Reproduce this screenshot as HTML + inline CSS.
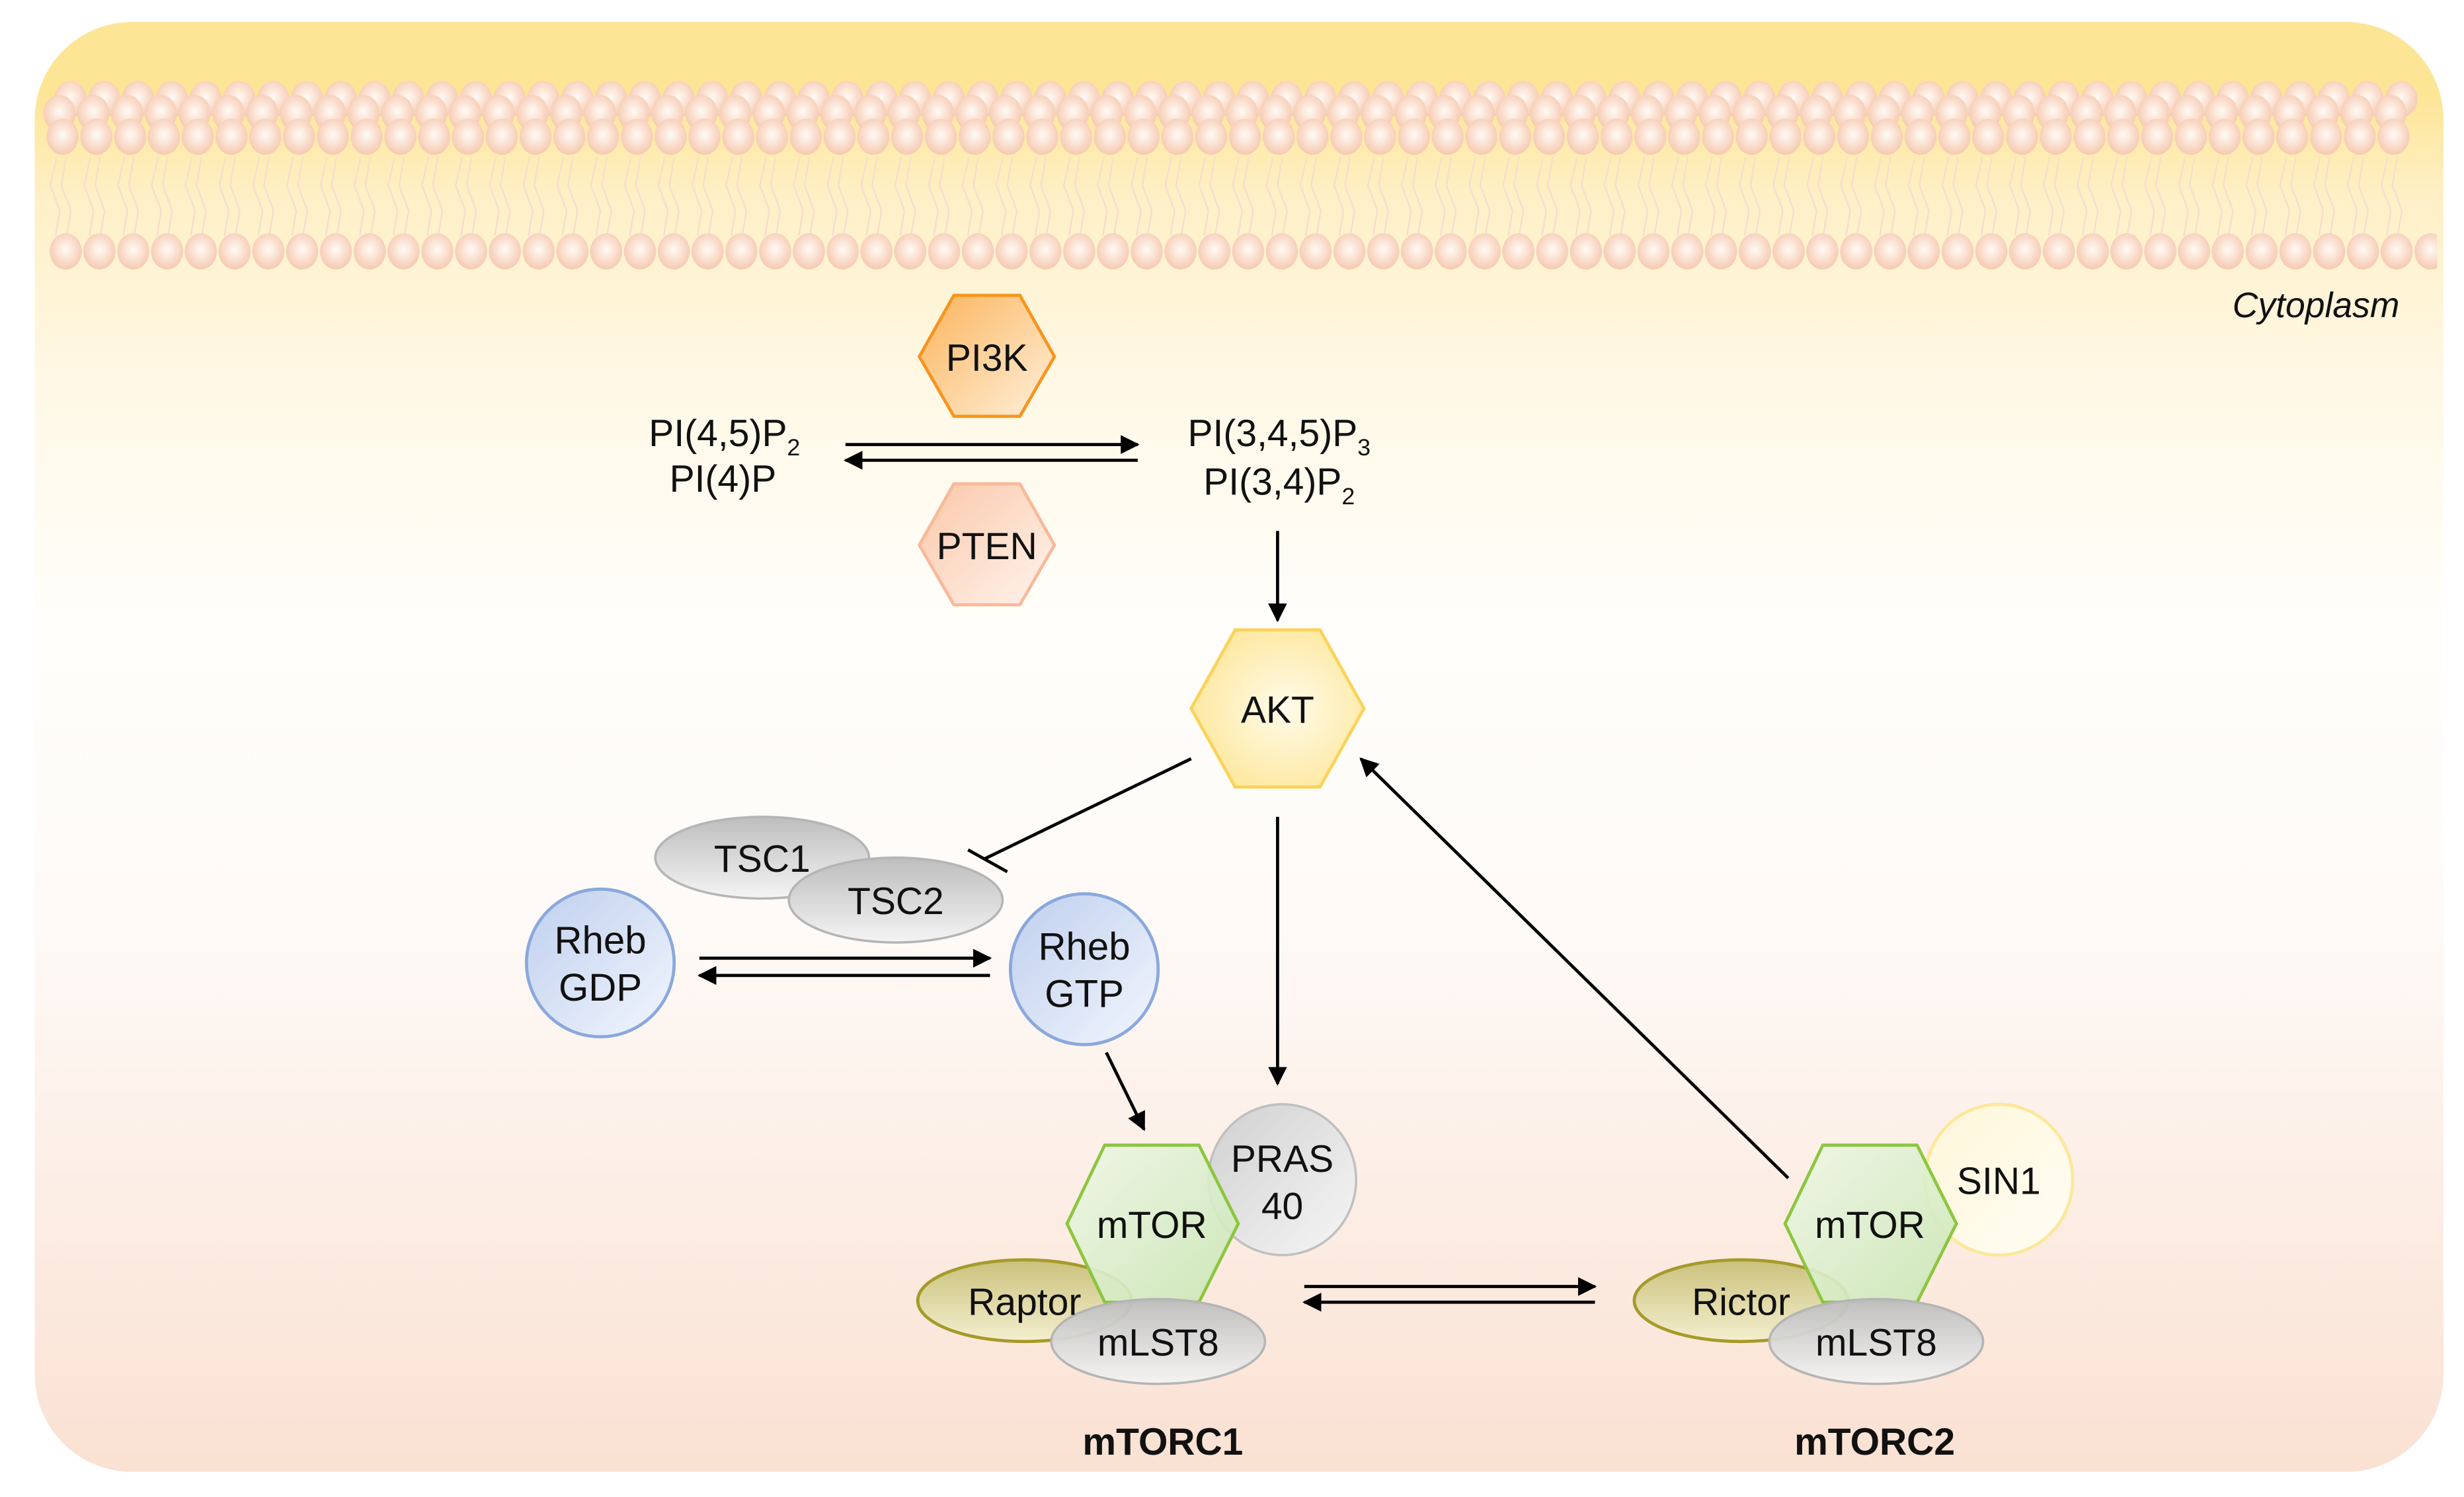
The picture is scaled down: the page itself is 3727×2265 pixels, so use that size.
<!DOCTYPE html>
<html><head><meta charset="utf-8"><style>
html,body{margin:0;padding:0;background:#fff;}
svg{display:block;}
text{font-family:"Liberation Sans",Arial,sans-serif;fill:#111;}
</style></head><body>
<svg width="3727" height="2265" viewBox="0 0 1568 953" xmlns="http://www.w3.org/2000/svg">
<defs>
<linearGradient id="bg" x1="0" y1="0" x2="0" y2="1">
<stop offset="0" stop-color="#fde596"/>
<stop offset="0.05" stop-color="#fde596"/>
<stop offset="0.12" stop-color="#fef0c6"/>
<stop offset="0.25" stop-color="#fff8e6"/>
<stop offset="0.42" stop-color="#fffefb"/>
<stop offset="0.62" stop-color="#fefaf7"/>
<stop offset="1" stop-color="#fae1d2"/>
</linearGradient>
<radialGradient id="ball" cx="0.5" cy="0.45" r="0.55">
<stop offset="0" stop-color="#fffaf5"/>
<stop offset="1" stop-color="#f6c9b0"/>
</radialGradient>
<pattern id="headrow" x="0" y="0" width="21.5" height="26" patternUnits="userSpaceOnUse">
<ellipse cx="10.75" cy="13" rx="10.2" ry="11.5" fill="url(#ball)"/>
</pattern>
<pattern id="tails" x="0" y="0" width="21.5" height="60" patternUnits="userSpaceOnUse">
<polyline points="6,0 2,18 8,34 5,52" fill="none" stroke="#f8dccf" stroke-width="1"/>
<polyline points="12,0 9,18 15,34 12,52" fill="none" stroke="#f8dccf" stroke-width="1"/>
</pattern>
<linearGradient id="gOr" x1="0" y1="0" x2="1" y2="1"><stop offset="0" stop-color="#fbb45b"/><stop offset="1" stop-color="#fff0dc"/></linearGradient>
<linearGradient id="gPt" x1="0" y1="0" x2="1" y2="1"><stop offset="0" stop-color="#fbc7a8"/><stop offset="1" stop-color="#fff4ee"/></linearGradient>
<radialGradient id="gAkt" cx="0.55" cy="0.5" r="0.6"><stop offset="0" stop-color="#fffbea"/><stop offset="1" stop-color="#fde79a"/></radialGradient>
<linearGradient id="gGray" x1="0" y1="0" x2="0" y2="1"><stop offset="0" stop-color="#bdbdbd"/><stop offset="1" stop-color="#f4f4f4"/></linearGradient>
<linearGradient id="gGray2" x1="0" y1="0" x2="1" y2="1"><stop offset="0" stop-color="#d0d0d0"/><stop offset="1" stop-color="#f6f6f6"/></linearGradient>
<linearGradient id="gBlue" x1="0" y1="0" x2="1" y2="1"><stop offset="0" stop-color="#bfcfee"/><stop offset="1" stop-color="#f2f6fd"/></linearGradient>
<linearGradient id="gGreen" x1="0" y1="0" x2="1" y2="1"><stop offset="0" stop-color="#eef7e6"/><stop offset="1" stop-color="#c8e6b4"/></linearGradient>
<linearGradient id="gOl" x1="0" y1="0" x2="0" y2="1"><stop offset="0" stop-color="#cbc17c"/><stop offset="1" stop-color="#f4efcf"/></linearGradient>
<linearGradient id="gSin" x1="0" y1="0" x2="1" y2="1"><stop offset="0" stop-color="#fff6d8"/><stop offset="1" stop-color="#fffdf5"/></linearGradient>
<marker id="ah2" viewBox="0 0 10 10" refX="9" refY="5" markerWidth="12" markerHeight="12" markerUnits="userSpaceOnUse" orient="auto"><path d="M0,0 L10,5 L0,10 z" fill="#000"/></marker>
</defs>

<rect x="22" y="14" width="1533" height="923" rx="62" ry="62" fill="url(#bg)"/>
<!-- membrane -->
<rect x="0" y="0" width="1505" height="50" fill="url(#tails)" transform="translate(30,100)"/>
<rect x="0" y="0" width="1505" height="26" fill="url(#headrow)" transform="translate(34,50)"/>
<rect x="0" y="0" width="1505" height="26" fill="url(#headrow)" transform="translate(27,59)"/>
<rect x="0" y="0" width="1505" height="26" fill="url(#headrow)" transform="translate(29,74)"/>
<rect x="0" y="0" width="1520" height="26" fill="url(#headrow)" transform="translate(31,147)"/>

<text x="1527" y="202" font-size="22.5" font-style="italic" text-anchor="end">Cytoplasm</text>

<!-- PI3K / PTEN -->
<polygon points="585,227 607,188 649,188 671,227 649,265 607,265" fill="url(#gOr)" stroke="#f7941d" stroke-width="2"/>
<text x="628" y="236" font-size="24" text-anchor="middle">PI3K</text>
<polygon points="585,347 607,308 649,308 671,347 649,385 607,385" fill="url(#gPt)" stroke="#f9b99a" stroke-width="2"/>
<text x="628" y="356" font-size="24" text-anchor="middle">PTEN</text>

<text x="461" y="284" font-size="24" text-anchor="middle">PI(4,5)P<tspan font-size="15" dy="6">2</tspan></text>
<text x="460" y="313" font-size="24" text-anchor="middle">PI(4)P</text>
<text x="814" y="284" font-size="24" text-anchor="middle">PI(3,4,5)P<tspan font-size="15" dy="6">3</tspan></text>
<text x="814" y="315" font-size="24" text-anchor="middle">PI(3,4)P<tspan font-size="15" dy="6">2</tspan></text>

<line x1="538" y1="283" x2="724" y2="283" stroke="#000" stroke-width="2" marker-end="url(#ah2)"/>
<line x1="724" y1="293" x2="538" y2="293" stroke="#000" stroke-width="2" marker-end="url(#ah2)"/>

<line x1="813" y1="338" x2="813" y2="395" stroke="#000" stroke-width="2" marker-end="url(#ah2)"/>

<!-- AKT -->
<polygon points="758,451 786,401 840,401 868,451 840,501 786,501" fill="url(#gAkt)" stroke="#fbd35a" stroke-width="2"/>
<text x="813" y="460" font-size="24" text-anchor="middle">AKT</text>

<line x1="758" y1="483" x2="626" y2="547" stroke="#000" stroke-width="2"/>
<line x1="616" y1="541" x2="641" y2="555" stroke="#000" stroke-width="2"/>

<!-- TSC -->
<ellipse cx="485" cy="546" rx="68" ry="26" fill="url(#gGray)" stroke="#b5b5b5" stroke-width="1.5"/>
<ellipse cx="570" cy="573" rx="68" ry="27" fill="url(#gGray)" stroke="#b5b5b5" stroke-width="1.5"/>
<text x="485" y="555" font-size="24" text-anchor="middle">TSC1</text>
<text x="570" y="582" font-size="24" text-anchor="middle">TSC2</text>

<!-- Rheb -->
<circle cx="382" cy="613" r="47" fill="url(#gBlue)" stroke="#8aa8dc" stroke-width="2"/>
<text x="382" y="607" font-size="24.5" text-anchor="middle">Rheb</text>
<text x="382" y="637" font-size="24.5" text-anchor="middle">GDP</text>
<ellipse cx="690" cy="617" rx="47" ry="48" fill="url(#gBlue)" stroke="#8aa8dc" stroke-width="2"/>
<text x="690" y="611" font-size="24.5" text-anchor="middle">Rheb</text>
<text x="690" y="641" font-size="24.5" text-anchor="middle">GTP</text>

<line x1="445" y1="610" x2="630" y2="610" stroke="#000" stroke-width="2" marker-end="url(#ah2)"/>
<line x1="630" y1="621" x2="445" y2="621" stroke="#000" stroke-width="2" marker-end="url(#ah2)"/>

<line x1="704" y1="670" x2="728" y2="719" stroke="#000" stroke-width="2" marker-end="url(#ah2)"/>
<line x1="813" y1="520" x2="813" y2="690" stroke="#000" stroke-width="2" marker-end="url(#ah2)"/>
<line x1="1138" y1="750" x2="866" y2="483" stroke="#000" stroke-width="2" marker-end="url(#ah2)"/>

<!-- mTORC1 -->
<ellipse cx="816" cy="751" rx="47" ry="48" fill="url(#gGray2)" stroke="#c0c0c0" stroke-width="1.5"/>
<ellipse cx="652" cy="828" rx="68" ry="26" fill="url(#gOl)" stroke="#a69a2a" stroke-width="2"/>
<polygon points="679,779 703,729 763,729 788,779 763,829 703,829" fill="url(#gGreen)" fill-opacity="0.9" stroke="#8cc63f" stroke-width="2"/>
<ellipse cx="737" cy="854" rx="68" ry="27" fill="url(#gGray)" stroke="#b5b5b5" stroke-width="1.5" fill-opacity="0.95"/>
<text x="816" y="746" font-size="24" text-anchor="middle">PRAS</text>
<text x="816" y="776" font-size="24" text-anchor="middle">40</text>
<text x="733" y="788" font-size="24" text-anchor="middle">mTOR</text>
<text x="652" y="837" font-size="24" text-anchor="middle">Raptor</text>
<text x="737" y="863" font-size="24" text-anchor="middle">mLST8</text>
<text x="740" y="926" font-size="24" font-weight="bold" text-anchor="middle">mTORC1</text>

<line x1="830" y1="819" x2="1015" y2="819" stroke="#000" stroke-width="2" marker-end="url(#ah2)"/>
<line x1="1015" y1="829" x2="830" y2="829" stroke="#000" stroke-width="2" marker-end="url(#ah2)"/>

<!-- mTORC2 -->
<ellipse cx="1272" cy="751" rx="47" ry="48" fill="url(#gSin)" stroke="#fbe89a" stroke-width="2"/>
<ellipse cx="1108" cy="828" rx="68" ry="26" fill="url(#gOl)" stroke="#a69a2a" stroke-width="2"/>
<polygon points="1136,779 1160,729 1220,729 1245,779 1220,829 1160,829" fill="url(#gGreen)" fill-opacity="0.9" stroke="#8cc63f" stroke-width="2"/>
<ellipse cx="1194" cy="854" rx="68" ry="27" fill="url(#gGray)" stroke="#b5b5b5" stroke-width="1.5" fill-opacity="0.95"/>
<text x="1272" y="760" font-size="24" text-anchor="middle">SIN1</text>
<text x="1190" y="788" font-size="24" text-anchor="middle">mTOR</text>
<text x="1108" y="837" font-size="24" text-anchor="middle">Rictor</text>
<text x="1194" y="863" font-size="24" text-anchor="middle">mLST8</text>
<text x="1193" y="926" font-size="24" font-weight="bold" text-anchor="middle">mTORC2</text>
</svg>
</body></html>
